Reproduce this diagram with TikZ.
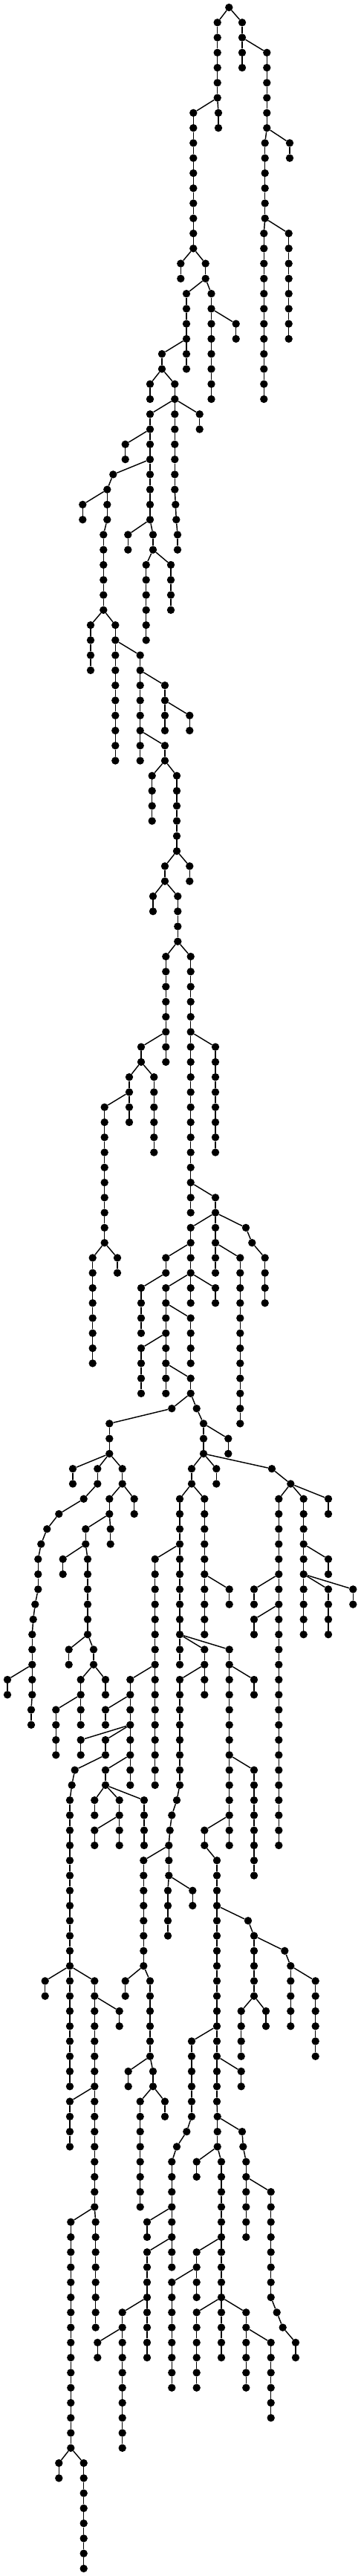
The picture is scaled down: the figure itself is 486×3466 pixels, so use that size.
\documentclass[tikz,border=0pt]{standalone}
\tikzset{
  v/.style={circle, fill=black, draw=none, inner sep=0pt, minimum size=10.4pt},
  e/.style={line width=1.45pt, black}
}
\newcommand\mynode[3]{\node[v] (#1) at (#2,{-10-20.27*#3}) {};}
\newcommand\myedge[2]{\draw[e] (#1) -- (#2);}
\newcommand\mychain[4]{%
  \foreach \k in {#3,...,#4}{\node[v] (#1-\k) at (#2,{-10-20.27*\k}) {};}%
  \foreach \k in {#3,...,#4}{\ifnum\k<#4\relax\pgfmathtruncatemacro\kk{\k+1}\draw[e] (#1-\k) -- (#1-\kk);\fi}%
}
\begin{document}
\begin{tikzpicture}[x=1pt,y=1pt]
\useasboundingbox (0,0) rectangle (486,-3466);
\mynode{R}{308.3}{0}
\mychain{A}{292.7}{1}{6} \myedge{R}{A-1}
\mychain{Ab}{294}{7}{8} \myedge{A-6}{Ab-7}
\mychain{B}{326}{1}{4} \myedge{R}{B-1}
\mychain{C}{359.3}{3}{8} \myedge{B-2}{C-3}
\mychain{Cb}{356.7}{9}{14} \myedge{C-8}{Cb-9}
\mychain{Cc}{390}{9}{10} \myedge{C-8}{Cc-9}
\mychain{E}{355.3}{15}{26} \myedge{Cb-14}{E-15}
\mychain{F}{388.7}{15}{22} \myedge{Cb-14}{F-15}
\mychain{D}{260.3}{7}{16} \myedge{A-6}{D-7}
\mychain{G}{243.3}{17}{18} \myedge{D-16}{G-17}
\mychain{H}{276.7}{17}{18} \myedge{D-16}{H-17}
\mychain{I}{251}{19}{24} \myedge{H-18}{I-19}
\mychain{J}{284.5}{19}{26} \myedge{H-18}{J-19}
\mychain{K}{317.7}{21}{22} \myedge{J-20}{K-21}
\mychain{L}{218}{23}{24} \myedge{I-22}{L-23}
\mychain{M}{202}{25}{26} \myedge{L-24}{M-25}
\mychain{N}{235.3}{25}{32} \myedge{L-24}{N-25}
\mynode{N-33}{236.3}{33} \mynode{N-34}{237.3}{34}
\mychain{Nd}{239}{35}{36}
\myedge{N-32}{N-33} \myedge{N-33}{N-34} \myedge{N-34}{Nd-35}
\mychain{O}{202}{27}{34} \myedge{N-26}{O-27}
\mychain{Ob}{206}{35}{36} \myedge{O-34}{Ob-35}
\mychain{P}{268.7}{27}{28} \myedge{N-26}{P-27}
\mychain{Q}{168.7}{29}{30} \myedge{O-28}{Q-29}
\mynode{Rr}{152.3}{31} \myedge{O-30}{Rr}
\mychain{S}{144.3}{32}{34} \myedge{Rr}{S-32}
\mychain{Sb}{139.3}{35}{40} \myedge{S-34}{Sb-35}
\mychain{T}{111.3}{33}{34} \myedge{S-32}{T-33}
\mychain{U}{172.3}{35}{36} \myedge{O-34}{U-35}
\mychain{V}{196.7}{37}{42} \myedge{Ob-36}{V-37}
\mychain{W}{230}{37}{40} \myedge{Ob-36}{W-37}
\mychain{X}{122}{41}{44} \myedge{Sb-40}{X-41}
\mychain{Sc}{155.3}{41}{50} \myedge{Sb-40}{Sc-41}
\mychain{Y}{188.7}{43}{50} \myedge{Sc-42}{Y-43}
\mychain{Z}{222}{45}{48} \myedge{Y-44}{Z-45}
\mychain{AA}{255.3}{47}{48} \myedge{Z-46}{AA-47}
\mychain{AB}{222}{49}{50} \myedge{Y-48}{AB-49}
\mychain{AC}{204.7}{51}{54} \myedge{AB-50}{AC-51}
\mychain{AD}{238}{51}{56} \myedge{AB-50}{AD-51}
\mychain{AE}{222}{57}{58} \myedge{AD-56}{AE-57}
\mychain{AF}{255.3}{57}{58} \myedge{AD-56}{AF-57}
\mychain{AG}{206}{59}{60} \myedge{AE-58}{AG-59}
\mychain{AH}{239.3}{59}{62} \myedge{AE-58}{AH-59}
\mychain{AI}{223.3}{63}{70} \myedge{AH-62}{AI-63}
\mychain{AJ}{256.7}{63}{80} \myedge{AH-62}{AJ-63}
\mychain{AK}{190}{69}{70} \myedge{AI-68}{AK-69}
\mychain{AL}{290}{69}{76} \myedge{AJ-68}{AL-69}
\mychain{AM}{174}{71}{74} \myedge{AK-70}{AM-71}
\mychain{AN}{207.3}{71}{76} \myedge{AK-70}{AN-71}
\mychain{AO}{140.7}{73}{82} \myedge{AM-72}{AO-73}
\mychain{AP}{290}{79}{84} \myedge{AJ-78}{AP-79}
\mychain{AQ}{256.7}{81}{86} \myedge{AP-80}{AQ-81}
\mynode{AR-81}{331}{81} \mynode{AR-82}{339.3}{82}
\mychain{ARb}{356.7}{83}{86}
\myedge{AP-80}{AR-81} \myedge{AR-81}{AR-82} \myedge{AR-82}{ARb-83}
\mychain{AS}{124.7}{83}{90} \myedge{AO-82}{AS-83}
\mychain{AT}{158}{83}{84} \myedge{AO-82}{AT-83}
\mychain{AU}{223.3}{83}{84} \myedge{AQ-82}{AU-83}
\mychain{AV}{323.3}{83}{94} \myedge{AP-82}{AV-83}
\mychain{AW}{190}{85}{88} \myedge{AU-84}{AW-85}
\mychain{AY}{223.3}{85}{92} \myedge{AQ-84}{AY-85}
\mychain{AX}{290}{85}{86} \myedge{AQ-84}{AX-85}
\mychain{AZ}{256.7}{87}{90} \myedge{AY-86}{AZ-87}
\mychain{BA}{190}{89}{92} \myedge{AY-88}{BA-89}
\mychain{BB}{256.7}{91}{92} \myedge{AY-90}{BB-91}
\mynode{BC-93}{231.3}{93} \myedge{BB-92}{BC-93}
\mynode{BD-93}{264.7}{93} \myedge{BB-92}{BD-93}
\mychain{BD}{274}{94}{96} \myedge{BD-93}{BD-94}
\mychain{BE}{147.3}{94}{96} \myedge{BC-93}{BE-94}
\mychain{BF}{307.3}{95}{96} \myedge{BD-94}{BF-95}
\mychain{BG}{98}{97}{98} \myedge{BE-96}{BG-97}
\mychain{BH}{131.3}{97}{98} \myedge{BE-96}{BH-97}
\mychain{BI}{164.7}{97}{98} \myedge{BE-96}{BI-97}
\mychain{BJ}{258}{97}{98} \myedge{BD-96}{BJ-97}
\mychain{BK}{291.3}{97}{98} \myedge{BD-96}{BK-97}
\mynode{BL-97}{366}{97} \mynode{BL-98}{391.3}{98}
\myedge{BD-96}{BL-97} \myedge{BL-97}{BL-98}
\mynode{BM-99}{112.7}{99} \myedge{BH-98}{BM-99}
\mychain{BN}{147.3}{99}{100} \myedge{BI-98}{BN-99}
\mychain{BNb}{148.7}{101}{102} \myedge{BN-100}{BNb-101}
\mychain{BO}{180.7}{99}{100} \myedge{BI-98}{BO-99}
\mychain{BP}{242}{99}{110} \myedge{BJ-98}{BP-99}
\mychain{BQ}{275.3}{99}{108} \myedge{BJ-98}{BQ-99}
\mychain{BR}{375.3}{99}{122} \myedge{BL-98}{BR-99}
\mychain{BS}{408.7}{99}{108} \myedge{BL-98}{BS-99}
\mychain{BT}{442}{99}{100} \myedge{BL-98}{BT-99}
\mynode{BU-100}{79.3}{100} \mynode{BU-101}{63.3}{101} \mynode{BU-102}{55.3}{102}
\mychain{BUb}{51.3}{103}{105}
\mynode{BU-106}{47.3}{106} \mynode{BU-107}{44.7}{107}
\mychain{BUc}{43.3}{108}{112}
\mychain{BUd}{42}{113}{114}
\myedge{BM-99}{BU-100} \myedge{BU-100}{BU-101} \myedge{BU-101}{BU-102}
\myedge{BU-102}{BUb-103} \myedge{BUb-105}{BU-106} \myedge{BU-106}{BU-107}
\myedge{BU-107}{BUc-108} \myedge{BUc-112}{BUd-113}
\mychain{BV}{115.3}{101}{102} \myedge{BN-100}{BV-101}
\mychain{BVb}{118}{103}{108} \myedge{BV-102}{BVb-103}
\mychain{BW}{84.7}{103}{104} \myedge{BV-102}{BW-103}
\mychain{BX}{208.7}{103}{118} \myedge{BP-102}{BX-103}
\mychain{BY}{442}{103}{104} \myedge{BS-102}{BY-103}
\mychain{BZ}{308.7}{105}{106} \myedge{BQ-104}{BZ-105}
\mychain{CA}{342}{105}{106} \myedge{BR-104}{CA-105}
\mychain{CB}{442}{105}{108} \myedge{BS-104}{CB-105}
\mychain{CC}{475.3}{105}{106} \myedge{BS-104}{CC-105}
\mychain{CD}{342}{107}{108} \myedge{BR-106}{CD-107}
\mychain{CE}{92.7}{109}{110} \myedge{BVb-108}{CE-109}
\mychain{CF}{126}{109}{110} \myedge{BVb-108}{CF-109}
\mychain{CG}{275.3}{109}{112} \myedge{BP-108}{CG-109}
\mychain{CH}{308.7}{109}{122} \myedge{BP-108}{CH-109}
\mychain{CI}{10}{111}{112} \myedge{BUc-110}{CI-111}
\mychain{CJ}{108.7}{111}{114} \myedge{CF-110}{CJ-111}
\mychain{CK}{142}{111}{112} \myedge{CF-110}{CK-111}
\mychain{CL}{175.3}{111}{118} \myedge{BX-110}{CL-111}
\mychain{CM}{242}{111}{118} \myedge{CG-110}{CM-111}
\mynode{CM-119}{238}{119} \mynode{CM-120}{231.3}{120} \mynode{CM-121}{228.7}{121}
\mychain{CMb}{227.3}{122}{124}
\mychain{CMc}{226}{125}{128}
\myedge{CM-118}{CM-119} \myedge{CM-119}{CM-120} \myedge{CM-120}{CM-121}
\myedge{CM-121}{CMb-122} \myedge{CMb-124}{CMc-125}
\mychain{CN}{342}{111}{112} \myedge{CH-110}{CN-111}
\mychain{CO}{75.3}{113}{116} \myedge{CJ-112}{CO-113}
\mychain{CP}{142}{113}{114} \myedge{CL-112}{CP-113}
\mychain{CQ}{108.7}{115}{116} \myedge{CL-114}{CQ-115}
\mychain{CR}{142}{115}{116} \myedge{CL-114}{CR-115}
\mynode{CS-117}{100.7}{117} \mynode{CS-118}{96.7}{118}
\mychain{CSb}{94}{119}{138}
\myedge{CR-116}{CS-117} \myedge{CS-117}{CS-118} \myedge{CS-118}{CSb-119}
\mychain{CT}{142}{117}{118} \myedge{CL-116}{CT-117}
\mychain{CU}{342}{117}{124} \myedge{CH-116}{CU-117}
\mychain{CV}{127.3}{119}{120} \myedge{CT-118}{CV-119}
\mychain{CW}{160.7}{119}{122} \myedge{CT-118}{CW-119}
\mychain{CX}{194}{119}{122} \myedge{CT-118}{CX-119}
\mychain{CY}{127.3}{121}{122} \myedge{CW-120}{CY-121}
\mychain{CZ}{275.3}{121}{122} \myedge{CH-120}{CZ-121}
\mychain{CZb}{292}{123}{139} \myedge{CZ-122}{CZb-123}
\mychain{CZc}{292.7}{140}{142} \myedge{CZb-139}{CZc-140}
\mychain{CZd}{298}{143}{156} \myedge{CZc-142}{CZd-143}
\mychain{DA}{193.3}{123}{130} \myedge{CMb-122}{DA-123}
\mychain{DAb}{202}{131}{136} \myedge{DA-130}{DAb-131}
\mychain{DAc}{206}{137}{138} \myedge{DAb-136}{DAc-137}
\mychain{DB}{259.3}{125}{126} \myedge{CMb-124}{DB-125}
\mynode{DC-127}{334}{127} \myedge{CZb-126}{DC-127}
\mychain{DCb}{342}{128}{132} \myedge{DC-127}{DCb-128}
\mynode{DD-129}{383.3}{129} \myedge{DCb-128}{DD-129}
\mychain{DDb}{391.3}{130}{134} \myedge{DD-129}{DDb-130}
\mychain{DE}{60.7}{131}{132} \myedge{CSb-130}{DE-131}
\mychain{DF}{127.3}{131}{146} \myedge{CSb-130}{DF-131}
\mychain{DFb}{128.7}{147}{154} \myedge{DF-146}{DFb-147}
\mychain{DG}{168.7}{131}{132} \myedge{DA-130}{DG-131}
\mychain{DH}{424.7}{131}{136} \myedge{DDb-130}{DH-131}
\mychain{DI}{160.7}{133}{134} \myedge{DF-132}{DI-133}
\mychain{DJ}{324.7}{133}{136} \myedge{DCb-132}{DJ-133}
\mychain{DK}{358}{133}{134} \myedge{DCb-132}{DK-133}
\mychain{DL}{258}{135}{140} \myedge{CZb-134}{DL-135}
\mynode{DL-141}{251.3}{141} \mynode{DL-142}{238}{142}
\mychain{DLb}{231.3}{143}{150}
\myedge{DL-140}{DL-141} \myedge{DL-141}{DL-142} \myedge{DL-142}{DLb-143}
\mychain{DM}{172.7}{137}{138} \myedge{DAb-136}{DM-137}
\mychain{DN}{324.7}{137}{138} \myedge{CZb-136}{DN-137}
\mychain{DO}{94}{139}{142} \myedge{DF-138}{DO-139}
\mychain{DP}{188.7}{139}{146} \myedge{DAc-138}{DP-139}
\mychain{DQ}{222}{139}{140} \myedge{DAc-138}{DQ-139}
\mynode{DR-141}{326}{141} \mynode{DR-142}{327.3}{142}
\mychain{DRb}{331.3}{143}{148}
\myedge{CZc-140}{DR-141} \myedge{DR-141}{DR-142} \myedge{DR-142}{DRb-143}
\mychain{DS}{264.7}{143}{144} \myedge{CZc-142}{DS-143}
\mychain{DT}{364.7}{145}{152} \myedge{DRb-144}{DT-145}
\mynode{DT-153}{372.7}{153} \mynode{DT-154}{380.7}{154}
\mychain{DTb}{398}{155}{156}
\myedge{DT-152}{DT-153} \myedge{DT-153}{DT-154} \myedge{DT-154}{DTb-155}
\mychain{DU}{95.3}{147}{162} \myedge{DF-146}{DU-147}
\mychain{DV}{198}{147}{148} \myedge{DLb-146}{DV-147}
\mychain{DW}{198}{149}{156} \myedge{DLb-148}{DW-149}
\mychain{DX}{264.7}{149}{152} \myedge{CZd-148}{DX-149}
\mychain{DY}{231.3}{151}{158} \myedge{DX-150}{DY-151}
\mychain{DZ}{164.7}{153}{162} \myedge{DW-152}{DZ-153}
\mychain{EA}{264.7}{153}{158} \myedge{CZd-152}{EA-153}
\mychain{EB}{331.3}{153}{158} \myedge{CZd-152}{EB-153}
\mychain{EC}{131.3}{155}{156} \myedge{DZ-154}{EC-155}
\mychain{ED}{364.7}{155}{160} \myedge{EB-154}{ED-155}
\mychain{EE}{79.3}{163}{164} \myedge{DU-162}{EE-163}
\mychain{EF}{112.7}{163}{170} \myedge{DU-162}{EF-163}
\end{tikzpicture}
\end{document}
